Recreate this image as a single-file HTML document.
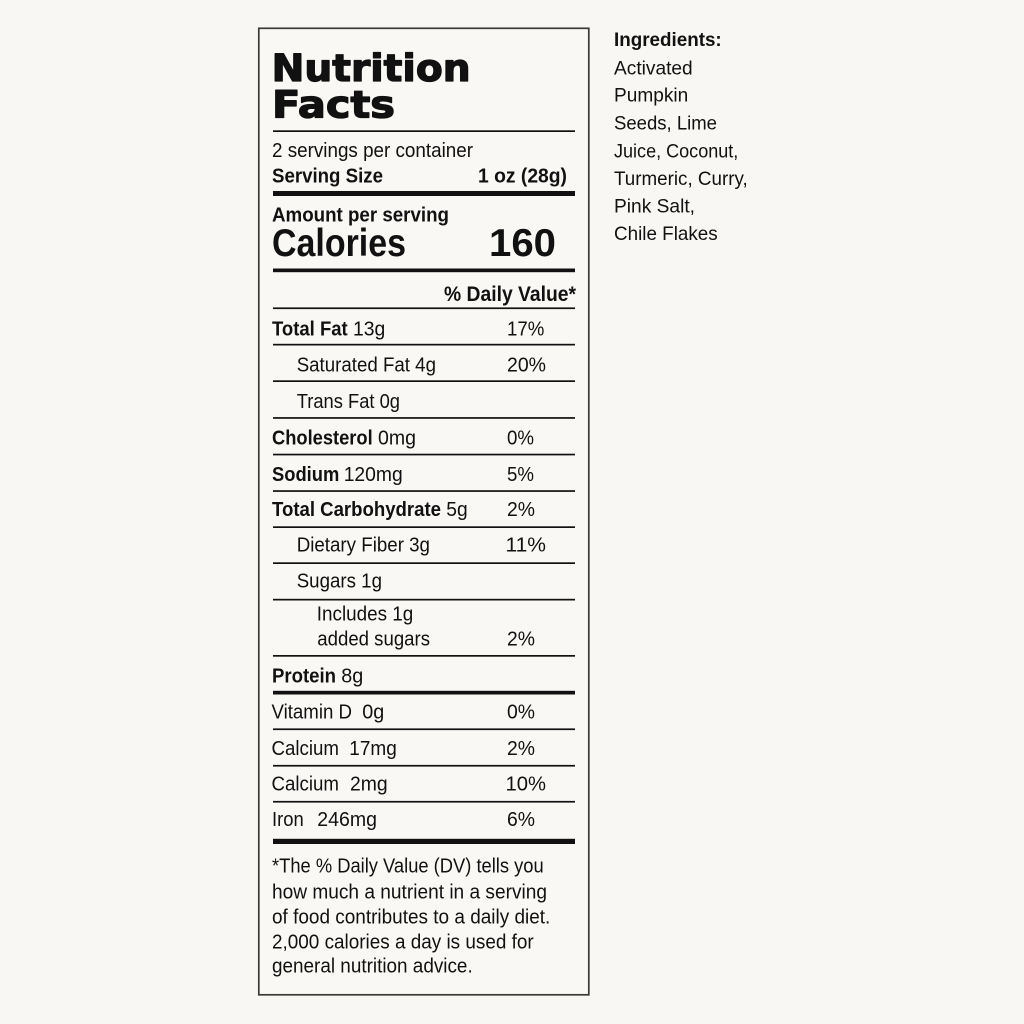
<!DOCTYPE html>
<html><head><meta charset="utf-8"><style>
html,body{margin:0;padding:0;background:#f8f7f3;}
svg{display:block;}
text{font-family:"Liberation Sans",Arial,sans-serif;fill:#111;}
.b{font-weight:bold;}
.t{font-family:"DejaVu Sans","Liberation Sans",sans-serif;font-weight:bold;font-size:37px;stroke:#111;stroke-width:1.3;stroke-linejoin:round;}
.r{font-size:20.5px;}
.f{font-size:20px;}
.i{font-size:19.5px;}
</style></head><body>
<svg width="1024" height="1024" viewBox="0 0 1024 1024" xmlns="http://www.w3.org/2000/svg">
<rect x="0" y="0" width="1024" height="1024" fill="#f8f7f3"/>
<rect x="258.8" y="28.3" width="330" height="966.5" fill="#f9f8f5" stroke="#3a3a3a" stroke-width="1.7"/>

<!-- title -->
<text class="t" x="271.6" y="81" textLength="199" lengthAdjust="spacingAndGlyphs">Nutrition</text>
<text class="t" x="272" y="117.5" textLength="123" lengthAdjust="spacingAndGlyphs">Facts</text>
<rect x="273" y="130.3" width="302" height="1.7" fill="#111"/>

<text class="f" x="272" y="157" textLength="201" lengthAdjust="spacingAndGlyphs">2 servings per container</text>
<text class="f b" x="272" y="182.5" textLength="111" lengthAdjust="spacingAndGlyphs">Serving Size</text>
<text class="f b" x="478" y="182.5" textLength="89" lengthAdjust="spacingAndGlyphs">1 oz (28g)</text>
<rect x="273" y="191" width="302" height="5" fill="#111"/>

<text class="f b" x="272" y="221.7" textLength="177" lengthAdjust="spacingAndGlyphs">Amount per serving</text>
<text class="b" style="font-size:39px" x="272" y="256" textLength="134" lengthAdjust="spacingAndGlyphs">Calories</text>
<text class="b" style="font-size:39px" x="489" y="256" textLength="67" lengthAdjust="spacingAndGlyphs">160</text>
<rect x="273" y="268.5" width="302" height="3.7" fill="#111"/>

<text class="b" style="font-size:21px" x="444" y="301" textLength="132" lengthAdjust="spacingAndGlyphs">% Daily Value*</text>

<!-- row lines -->
<g fill="#111">
<rect x="273" y="307.4" width="302" height="1.7"/>
<rect x="273" y="343.8" width="302" height="1.7"/>
<rect x="273" y="380.3" width="302" height="1.7"/>
<rect x="273" y="417.1" width="302" height="1.7"/>
<rect x="273" y="453.7" width="302" height="1.7"/>
<rect x="273" y="490.2" width="302" height="1.7"/>
<rect x="273" y="526.3" width="302" height="1.7"/>
<rect x="273" y="562.3" width="302" height="1.7"/>
<rect x="273" y="598.8" width="302" height="1.7"/>
<rect x="273" y="655" width="302" height="1.7"/>
<rect x="273" y="690.8" width="302" height="3.7"/>
<rect x="273" y="728.4" width="302" height="1.7"/>
<rect x="273" y="764.9" width="302" height="1.7"/>
<rect x="273" y="800.9" width="302" height="1.7"/>
<rect x="273" y="838.8" width="302" height="5.2"/>
</g>

<!-- rows -->
<text class="r b" x="272" y="335.7" textLength="75.7" lengthAdjust="spacingAndGlyphs">Total Fat</text>
<text class="r" x="353" y="335.7" textLength="32.3" lengthAdjust="spacingAndGlyphs">13g</text>
<text class="r" x="507" y="335.7" textLength="37.3" lengthAdjust="spacingAndGlyphs">17%</text>

<text class="r" x="296.7" y="371.7" textLength="139.3" lengthAdjust="spacingAndGlyphs">Saturated Fat 4g</text>
<text class="r" x="507" y="371.7" textLength="39" lengthAdjust="spacingAndGlyphs">20%</text>

<text class="r" x="296.7" y="408" textLength="103.3" lengthAdjust="spacingAndGlyphs">Trans Fat 0g</text>

<text class="r b" x="272" y="444.3" textLength="100.7" lengthAdjust="spacingAndGlyphs">Cholesterol</text>
<text class="r" x="378" y="444.3" textLength="38" lengthAdjust="spacingAndGlyphs">0mg</text>
<text class="r" x="507" y="444.3" textLength="27" lengthAdjust="spacingAndGlyphs">0%</text>

<text class="r b" x="272" y="481" textLength="67.3" lengthAdjust="spacingAndGlyphs">Sodium</text>
<text class="r" x="343.7" y="481" textLength="59" lengthAdjust="spacingAndGlyphs">120mg</text>
<text class="r" x="507" y="481" textLength="27" lengthAdjust="spacingAndGlyphs">5%</text>

<text class="r b" x="272" y="516" textLength="169" lengthAdjust="spacingAndGlyphs">Total Carbohydrate</text>
<text class="r" x="446.3" y="516" textLength="21.4" lengthAdjust="spacingAndGlyphs">5g</text>
<text class="r" x="507" y="516" textLength="28" lengthAdjust="spacingAndGlyphs">2%</text>

<text class="r" x="296.7" y="551.7" textLength="133.3" lengthAdjust="spacingAndGlyphs">Dietary Fiber 3g</text>
<text class="r" x="505.5" y="551.7" textLength="40.5" lengthAdjust="spacingAndGlyphs">11%</text>

<text class="r" x="296.7" y="587.7" textLength="85.3" lengthAdjust="spacingAndGlyphs">Sugars 1g</text>

<text class="r" x="316.8" y="620.7" textLength="96.5" lengthAdjust="spacingAndGlyphs">Includes 1g</text>
<text class="r" x="317.3" y="645.7" textLength="112.7" lengthAdjust="spacingAndGlyphs">added sugars</text>
<text class="r" x="507" y="645.7" textLength="28" lengthAdjust="spacingAndGlyphs">2%</text>

<text class="r b" x="272" y="682.5" textLength="64" lengthAdjust="spacingAndGlyphs">Protein</text>
<text class="r" x="341.3" y="682.5" textLength="22" lengthAdjust="spacingAndGlyphs">8g</text>

<text class="r" x="271.5" y="718.3" textLength="80.5" lengthAdjust="spacingAndGlyphs">Vitamin D</text>
<text class="r" x="362.3" y="718.3" textLength="22" lengthAdjust="spacingAndGlyphs">0g</text>
<text class="r" x="507" y="718.3" textLength="28" lengthAdjust="spacingAndGlyphs">0%</text>

<text class="r" x="271.5" y="755" textLength="67.5" lengthAdjust="spacingAndGlyphs">Calcium</text>
<text class="r" x="349.3" y="755" textLength="47.5" lengthAdjust="spacingAndGlyphs">17mg</text>
<text class="r" x="507" y="755" textLength="28" lengthAdjust="spacingAndGlyphs">2%</text>

<text class="r" x="271.5" y="790.7" textLength="67.5" lengthAdjust="spacingAndGlyphs">Calcium</text>
<text class="r" x="350" y="790.7" textLength="37.7" lengthAdjust="spacingAndGlyphs">2mg</text>
<text class="r" x="505.5" y="790.7" textLength="40.5" lengthAdjust="spacingAndGlyphs">10%</text>

<text class="r" x="272" y="826" textLength="31.7" lengthAdjust="spacingAndGlyphs">Iron</text>
<text class="r" x="317.3" y="826" textLength="59.7" lengthAdjust="spacingAndGlyphs">246mg</text>
<text class="r" x="507" y="826" textLength="28" lengthAdjust="spacingAndGlyphs">6%</text>

<!-- footnote -->
<text class="f" x="272" y="872.7" textLength="271.7" lengthAdjust="spacingAndGlyphs">*The % Daily Value (DV) tells you</text>
<text class="f" x="272" y="898.3" textLength="275" lengthAdjust="spacingAndGlyphs">how much a nutrient in a serving</text>
<text class="f" x="272" y="923.3" textLength="278.3" lengthAdjust="spacingAndGlyphs">of food contributes to a daily diet.</text>
<text class="f" x="272" y="948.3" textLength="261.7" lengthAdjust="spacingAndGlyphs">2,000 calories a day is used for</text>
<text class="f" x="272" y="972.7" textLength="200.7" lengthAdjust="spacingAndGlyphs">general nutrition advice.</text>

<!-- ingredients -->
<text class="i b" x="614" y="46" textLength="107.7" lengthAdjust="spacingAndGlyphs">Ingredients:</text>
<text class="i" x="614" y="74.3" textLength="78.7" lengthAdjust="spacingAndGlyphs">Activated</text>
<text class="i" x="614" y="101.7" textLength="74.3" lengthAdjust="spacingAndGlyphs">Pumpkin</text>
<text class="i" x="614" y="129.3" textLength="103" lengthAdjust="spacingAndGlyphs">Seeds, Lime</text>
<text class="i" x="614" y="157.3" textLength="124.3" lengthAdjust="spacingAndGlyphs">Juice, Coconut,</text>
<text class="i" x="614" y="185" textLength="133.7" lengthAdjust="spacingAndGlyphs">Turmeric, Curry,</text>
<text class="i" x="614" y="212.7" textLength="81" lengthAdjust="spacingAndGlyphs">Pink Salt,</text>
<text class="i" x="614" y="240" textLength="103.7" lengthAdjust="spacingAndGlyphs">Chile Flakes</text>
</svg>
</body></html>
